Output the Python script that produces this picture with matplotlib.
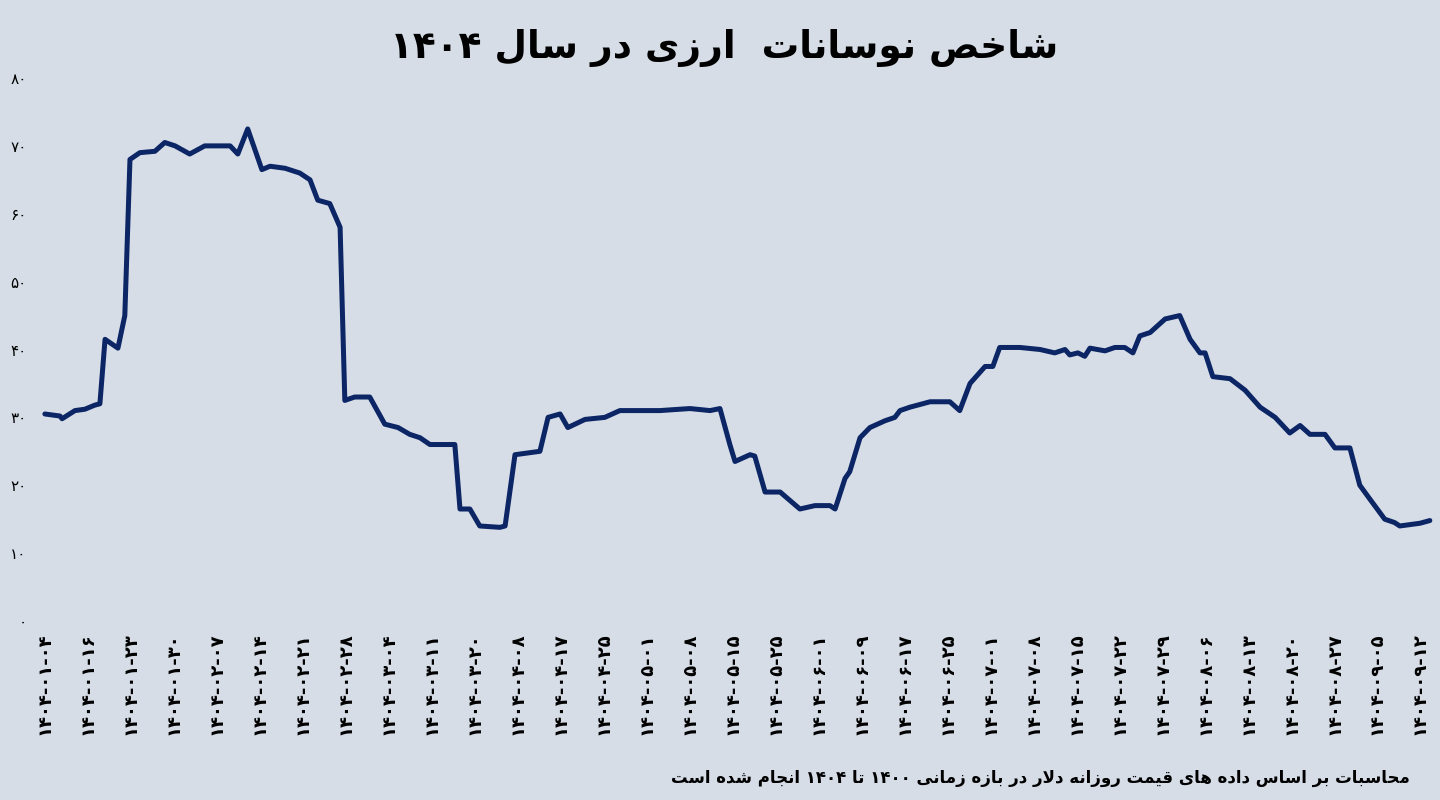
import matplotlib
matplotlib.use('Agg')
import matplotlib.pyplot as plt

# شاخص نوسانات ارزی (x in tick units)
tick_dates = ['1404-01-04', '1404-01-16', '1404-01-23', '1404-01-30', '1404-02-07', '1404-02-14',
              '1404-02-21', '1404-02-28', '1404-03-04', '1404-03-11', '1404-03-20', '1404-04-08',
              '1404-04-17', '1404-04-25', '1404-05-01', '1404-05-08', '1404-05-15', '1404-05-25',
              '1404-06-01', '1404-06-09', '1404-06-17', '1404-06-25', '1404-07-01', '1404-07-08',
              '1404-07-15', '1404-07-22', '1404-07-29', '1404-08-06', '1404-08-13', '1404-08-20',
              '1404-08-27', '1404-09-05', '1404-09-12']

x_pos = [0, .35, .40, .70, .93, 1.16, 1.28, 1.40, 1.70, 1.86, 1.98, 2.21, 2.56, 2.79, 3.03, 3.37,
         3.72, 4.31, 4.49, 4.72, 5.05, 5.24, 5.59, 5.93, 6.17, 6.35, 6.63, 6.87, 6.98, 7.21, 7.56,
         7.91, 8.22, 8.49, 8.73, 8.96, 9.54, 9.66, 9.89, 10.12, 10.59, 10.71, 10.94, 11.52, 11.71,
         11.99, 12.17, 12.57, 13.03, 13.38, 14.31, 15.01, 15.48, 15.71, 15.94, 16.06, 16.41, 16.52,
         16.76, 17.11, 17.57, 17.92, 18.27, 18.39, 18.62, 18.73, 18.97, 19.20, 19.55, 19.78, 19.90,
         20.13, 20.60, 21.06, 21.29, 21.53, 21.88, 22.06, 22.22, 22.69, 23.16, 23.50, 23.74, 23.85,
         24.04, 24.20, 24.32, 24.67, 24.90, 25.13, 25.32, 25.48, 25.72, 26.07, 26.41, 26.65, 26.88,
         27.00, 27.18, 27.58, 27.93, 28.28, 28.63, 28.97, 29.21, 29.44, 29.79, 30.02, 30.37, 30.60,
         30.83, 31.18, 31.41, 31.53, 32.00, 32.23]
values = [30.5, 30.2, 29.8, 31, 31.2, 31.8, 32, 41.5, 40.2, 45, 68, 69, 69.2, 70.5, 70, 68.8,
          70, 70, 68.8, 72.5, 66.5, 67, 66.7, 66, 65, 62, 61.5, 58, 32.5, 33, 33,
          29, 28.5, 27.5, 27, 26, 26, 16.5, 16.5, 14, 13.8, 14, 24.5, 25, 30,
          30.5, 28.5, 29.7, 30, 31, 31, 31.3, 31, 31.3, 26, 23.5, 24.5, 24.3,
          19, 19, 16.5, 17, 17, 16.5, 21, 22, 27, 28.5, 29.5, 30, 31,
          31.5, 32.3, 32.3, 31, 35, 37.5, 37.5, 40.3, 40.3, 40, 39.5, 40, 39.2,
          39.5, 39, 40.2, 39.8, 40.3, 40.3, 39.5, 42, 42.5, 44.5, 45, 41.5, 39.5,
          39.5, 36, 35.7, 34, 31.5, 30, 27.7, 28.8, 27.5, 27.5, 25.5, 25.5, 20,
          18, 15, 14.5, 14, 14.4, 14.8]
y_ticks = [0, 10, 20, 30, 40, 50, 60, 70, 80]

title_text = 'شاخص نوسانات  ارزی در سال ۱۴۰۴'
footer_text = 'محاسبات بر اساس داده های قیمت روزانه دلار در بازه زمانی ۱۴۰۰ تا ۱۴۰۴ انجام شده است'

# minimal arabic shaping: (isolated, final, initial, medial)
FORMS = {
    'ا': ('\uFE8D', '\uFE8E', None, None),
    'ب': ('\uFE8F', '\uFE90', '\uFE91', '\uFE92'),
    'ت': ('\uFE95', '\uFE96', '\uFE97', '\uFE98'),
    'ج': ('\uFE9D', '\uFE9E', '\uFE9F', '\uFEA0'),
    'ح': ('\uFEA1', '\uFEA2', '\uFEA3', '\uFEA4'),
    'خ': ('\uFEA5', '\uFEA6', '\uFEA7', '\uFEA8'),
    'د': ('\uFEA9', '\uFEAA', None, None),
    'ر': ('\uFEAD', '\uFEAE', None, None),
    'ز': ('\uFEAF', '\uFEB0', None, None),
    'س': ('\uFEB1', '\uFEB2', '\uFEB3', '\uFEB4'),
    'ش': ('\uFEB5', '\uFEB6', '\uFEB7', '\uFEB8'),
    'ص': ('\uFEB9', '\uFEBA', '\uFEBB', '\uFEBC'),
    'ق': ('\uFED5', '\uFED6', '\uFED7', '\uFED8'),
    'ل': ('\uFEDD', '\uFEDE', '\uFEDF', '\uFEE0'),
    'م': ('\uFEE1', '\uFEE2', '\uFEE3', '\uFEE4'),
    'ن': ('\uFEE5', '\uFEE6', '\uFEE7', '\uFEE8'),
    'ه': ('\uFEE9', '\uFEEA', '\uFEEB', '\uFEEC'),
    'و': ('\uFEED', '\uFEEE', None, None),
    'ی': ('\uFEEF', '\uFEF0', '\uFEF3', '\uFEF4'),
    '\x01': ('\uFEFB', '\uFEFC', None, None),  # lam-alef
}


def shape_word(w):
    w = w.replace('لا', '\x01')
    out = []
    for i, c in enumerate(w):
        if c not in FORMS:
            out.append(c)
            continue
        prev_j = i > 0 and w[i - 1] in FORMS and FORMS[w[i - 1]][2] is not None
        next_j = i + 1 < len(w) and w[i + 1] in FORMS and FORMS[c][2] is not None
        iso, fin, ini, med = FORMS[c]
        if prev_j and next_j:
            out.append(med)
        elif prev_j:
            out.append(fin)
        elif next_j:
            out.append(ini)
        else:
            out.append(iso)
    return ''.join(out)


def rtl(s):
    words = s.split(' ')
    res = []
    for w in reversed(words):
        if any(c in FORMS for c in w):
            res.append(shape_word(w)[::-1])
        else:
            res.append(w)
    return ' '.join(res)


def fa_digits(s):
    return ''.join(chr(0x06F0 + int(c)) if c.isdigit() else c for c in str(s))


plt.rcParams['font.family'] = ['DejaVu Sans']
bg = '#d6dde7'
fig = plt.figure(figsize=(14.4, 8), dpi=100, facecolor=bg)
ax = fig.add_axes([35 / 1440, 1 - 621 / 800, 1400 / 1440, 543 / 800])
ax.set_facecolor(bg)

ax.plot(x_pos, values, color='#0b2565', lw=3.6, solid_joinstyle='round', solid_capstyle='round')

ax.set_xlim(-0.23, 32.35)
ax.set_ylim(0, 80)
for s in ax.spines.values():
    s.set_visible(False)
ax.set_yticks(y_ticks)
ax.set_yticklabels([fa_digits(v) for v in y_ticks], fontsize=11)
ax.set_xticks(range(len(tick_dates)))
ax.set_xticklabels([fa_digits(d) for d in tick_dates], rotation=90, fontsize=13,
                   fontweight='bold', va='top')
ax.tick_params(length=0, pad=8)
ax.tick_params(axis='y', pad=6)

fig.text(0.503, 1 - 48 / 800, rtl(title_text), ha='center', va='center', fontsize=27,
         fontweight='heavy', color='black')
fig.text(1410 / 1440, 1 - 778 / 800, rtl(footer_text), ha='right', va='center', fontsize=12,
         fontweight='bold', color='black')

fig.savefig('out.png', dpi=100, facecolor=bg)
